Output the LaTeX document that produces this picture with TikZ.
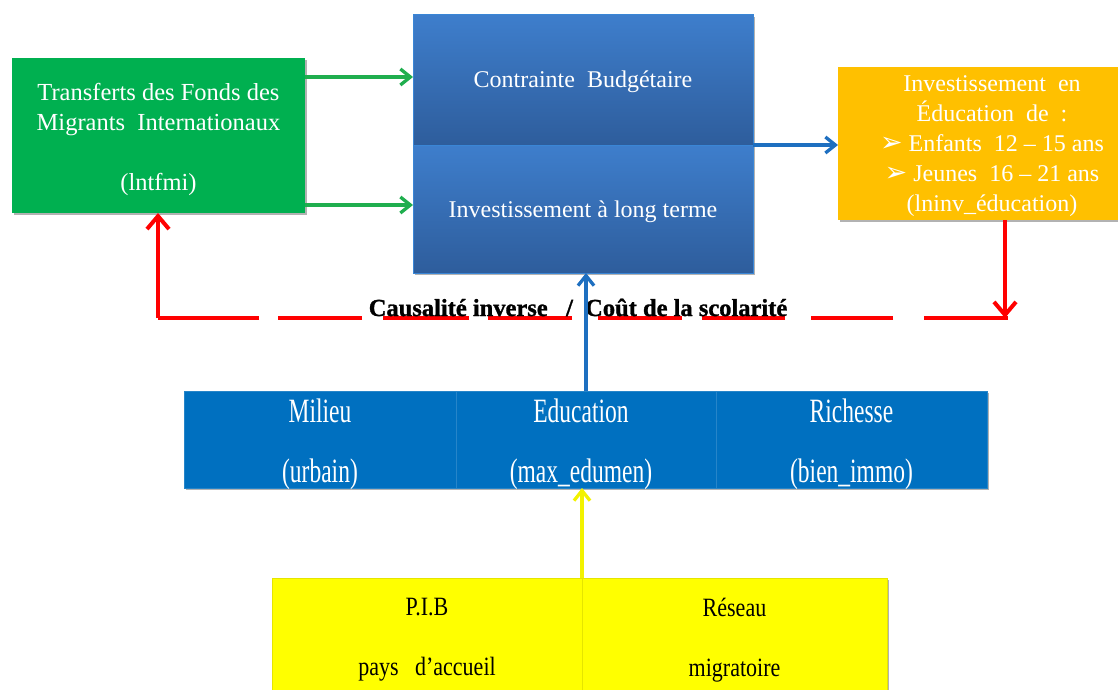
\documentclass[tikz,border=0pt]{standalone}
\usepackage{fontspec}
\usepackage{graphicx}
\setmainfont{Liberation Serif}
\newfontfamily\dejavu{DejaVu Sans}
\newfontfamily\heavyfont[FakeBold=1.2]{Liberation Serif Bold}
\usetikzlibrary{arrows.meta,shadows}
\definecolor{grn}{HTML}{00B050}
\definecolor{grnline}{HTML}{1FAE4E}
\definecolor{orng}{HTML}{FFC000}
\definecolor{blueA}{HTML}{3E7ECC}
\definecolor{blueB}{HTML}{2E5D9C}
\definecolor{blueedge}{HTML}{3A86D6}
\definecolor{bluebox}{HTML}{0070C0}
\definecolor{arrblue}{HTML}{1E6FC0}
\definecolor{ylw}{HTML}{FFFF00}
\definecolor{ylwline}{HTML}{F2F200}
\definecolor{redline}{HTML}{FF0000}
\newcommand{\tallT}[1]{\scalebox{1}[1.45]{#1}}
\newcommand{\midT}[1]{\scalebox{1}[1.2]{#1}}
\newcommand{\bulletarrow}{{\dejavu\fontsize{27}{30}\selectfont ➢}}
\begin{document}
\begin{tikzpicture}[x=1pt,y=-1pt,
  box/.style={inner sep=0pt, outer sep=0pt, anchor=center, align=center,
    drop shadow={shadow xshift=2pt, shadow yshift=-2pt, opacity=0.3, fill=black}},
  wtxt/.style={text=white, font=\fontsize{24}{30}\selectfont},
  wtxtg/.style={text=white, font=\fontsize{24.5}{30}\selectfont},
  wtxtb/.style={text=white, font=\fontsize{23.5}{30}\selectfont},
  btxt/.style={text=black, font=\fontsize{22}{30}\selectfont},
  grnarrow/.style={draw=grnline, line width=3.3pt, -{Straight Barb[length=10pt,width=16pt]}},
  bluearrow/.style={draw=arrblue, line width=3.3pt, -{Straight Barb[length=10pt,width=16pt]}},
  ylwarrow/.style={draw=ylwline, line width=3.3pt, -{Straight Barb[length=10pt,width=16pt]}},
  redarrow/.style={draw=redline, line width=4pt, -{Straight Barb[length=13pt,width=22pt]}},
  reddash/.style={draw=redline, line width=4pt,
    dash pattern=on 84pt off 31pt on 82pt off 26pt on 83pt off 20pt on 84pt off 26pt on 84pt off 19pt on 86pt off 21pt on 84pt off 19pt on 110pt off 0pt}
]
\useasboundingbox (0,0) rectangle (1118,690);

% green box
\node[box, fill=grn, minimum width=293pt, minimum height=155pt] (tf) at (158.5,135.5) {};
\node[wtxtg, align=center, inner sep=0pt] (tftext) at (158.5,139)
  {Transferts\ des\ Fonds\ des\\Migrants\ \ Internationaux\\[30pt](lntfmi)};

% blue budget boxes
\node[box, top color=blueA, bottom color=blueB, draw=blueedge, line width=1pt,
  minimum width=340pt, minimum height=130pt] (cb) at (583,80) {};
\node[wtxt, inner sep=0pt] (cbtext) at (583,82) {Contrainte\ \ Budgétaire};
\node[box, top color=blueA, bottom color=blueB, draw=blueedge, line width=1pt,
  minimum width=340pt, minimum height=128pt] (il) at (583,209) {};
\node[wtxt, inner sep=0pt] (iltext) at (583,212) {Investissement\ à\ long\ terme};

% orange box
\node[box, fill=orng, minimum width=280pt, minimum height=153pt] (ie) at (978,143.5) {};
\node[wtxt, align=center, inner sep=0pt] (ietext) at (992,146)
  {Investissement\ \ en\\Éducation\ \ de\ \ :\\\bulletarrow\ Enfants\ \ 12 – 15 ans\\\bulletarrow\ Jeunes\ \ 16 – 21 ans\\(lninv\_éducation)};

% bottom blue row
\node[box, fill=bluebox, draw=bluebox!85!white, line width=0.6pt, minimum width=272pt, minimum height=97pt] (mi) at (320,439.5) {};
\node[wtxtb, align=center, inner sep=0pt] (mitext) at (320,444)
  {\tallT{Milieu}\\[30pt]\tallT{(urbain)}};
\node[box, fill=bluebox, draw=bluebox!85!white, line width=0.6pt, minimum width=260pt, minimum height=97pt] (ed) at (586,439.5) {};
\node[wtxtb, align=center, inner sep=0pt] (edtext) at (581,444)
  {\tallT{Education}\\[30pt]\tallT{(max\_edumen)}};
\node[box, fill=bluebox, draw=bluebox!85!white, line width=0.6pt, minimum width=271pt, minimum height=97pt] (ri) at (851.5,439.5) {};
\node[wtxtb, align=center, inner sep=0pt] (ritext) at (851.5,444)
  {\tallT{Richesse}\\[30pt]\tallT{(bien\_immo)}};

% yellow boxes
\node[box, fill=ylw, draw=ylw!90!black, line width=0.4pt, minimum width=310pt, minimum height=112pt] (pib) at (427,634) {};
\node[btxt, align=center, inner sep=0pt] (pibtext) at (427,640)
  {\midT{P.I.B}\\[30pt]\midT{pays\ \ \ d’accueil}};
\node[box, fill=ylw, draw=ylw!90!black, line width=0.4pt, minimum width=305pt, minimum height=112pt] (re) at (734.5,634) {};
\node[btxt, align=center, inner sep=0pt] (retext) at (734.5,640)
  {\midT{Réseau}\\[30pt]\midT{migratoire}};

% connectors
\draw[grnarrow] (tf.east |- 0,77) -- (cb.west |- 0,77);
\draw[grnarrow] (tf.east |- 0,205) -- (il.west |- 0,205);
\draw[bluearrow] (cb.south east) -- (ie.west |- cb.south east);
\draw[bluearrow] (ed.north) -- (il.south -| ed.north);
\draw[ylwarrow] (pib.north east) -- (ed.south -| pib.north east);

% red feedback
\coordinate (rr) at (1005,318);
\coordinate (rl) at (158,318);
\draw[redarrow] (ie.south -| rr) -- (rr);
\draw[reddash] (1008,318) -- (rl);
\draw[redarrow] (rl) -- (tf.south -| rl);

\node[inner sep=0pt, anchor=base, font=\fontsize{24.5}{26}\heavyfont] (ci) at (578,316)
  {Causalité inverse\ \ \ /\ \ Coût de la scolarité};
\draw[draw=arrblue, line width=3.3pt] (586,296) -- (586,330);
\end{tikzpicture}
\end{document}
